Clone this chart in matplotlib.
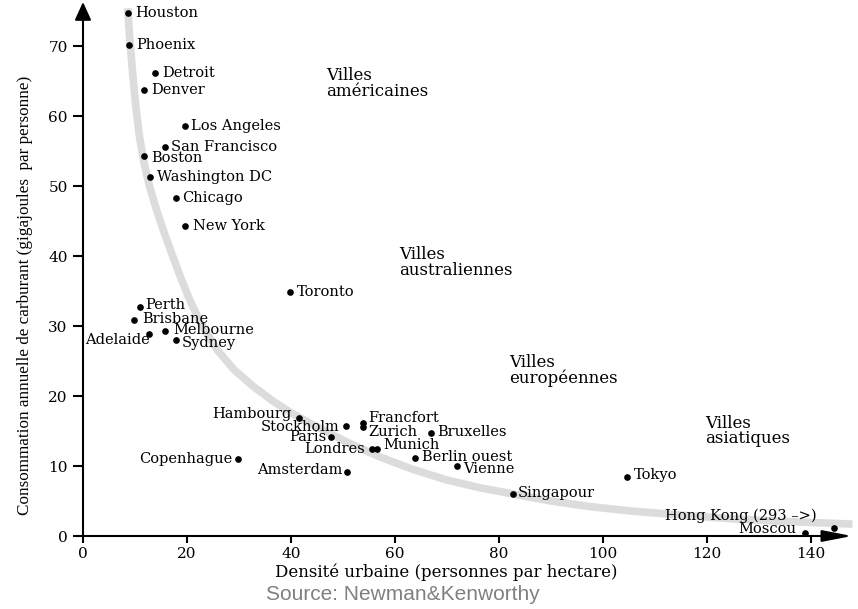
import numpy as np
import matplotlib.pyplot as plt

# cities: urban density (persons / ha) vs annual fuel use (GJ / person)
cities = ["Houston", "Phoenix", "Detroit", "Denver", "Los Angeles", "San Francisco",
          "Boston", "Washington DC", "Chicago", "New York", "Toronto", "Perth",
          "Brisbane", "Adelaide", "Melbourne", "Sydney", "Hambourg", "Stockholm",
          "Paris", "Londres", "Francfort", "Zurich", "Munich", "Bruxelles",
          "Berlin ouest", "Vienne", "Copenhague", "Amsterdam", "Singapour", "Tokyo",
          "Hong Kong (293 –>)", "Moscou"]
density = [8.7, 8.8, 13.8, 11.7, 19.6, 15.8, 11.7, 12.9, 17.9, 19.6, 39.8, 11.0,
           9.8, 12.7, 15.8, 17.9, 41.5, 50.6, 47.7, 55.6, 53.8, 53.8, 56.5, 66.9,
           63.8, 71.9, 29.8, 50.8, 82.7, 104.6, 144.4, 138.8]
fuel = [74.7, 70.1, 66.1, 63.7, 58.6, 55.6, 54.3, 51.3, 48.3, 44.3, 34.9, 32.7,
        30.9, 28.9, 29.3, 28.0, 16.9, 15.7, 14.1, 12.4, 16.1, 15.6, 12.4, 14.7,
        11.1, 10.0, 11.0, 9.1, 6.0, 8.4, 1.1, 0.4]

# grey trend curve
curve_density = [8.6, 9.0, 9.5, 10.1, 10.8, 11.6, 12.6, 13.8, 15.3, 17.1, 18.6, 20.2,
                 22.5, 25.8, 29.0, 32.7, 36.5, 40.0, 44.2, 50.8, 57.1, 63.5, 70.0,
                 76.3, 82.7, 90.0, 97.5, 105.0, 114.8, 124.0, 134.0, 148.0]
curve_fuel = [75.4, 71.0, 66.5, 61.8, 57.4, 53.8, 50.5, 47.4, 44.0, 40.3, 37.3, 34.3,
              30.6, 26.6, 23.8, 21.4, 19.3, 17.6, 15.9, 13.4, 11.3, 9.5, 8.0,
              6.9, 6.0, 5.0, 4.2, 3.6, 3.0, 2.5, 2.1, 1.7]

groups = ["Villes\naméricaines", "Villes\naustraliennes", "Villes\neuropéennes",
          "Villes\nasiatiques"]
group_density = [46.7, 60.8, 81.9, 119.6]
group_fuel = [64.7, 39.1, 23.6, 15.0]

# label placement: (dx px, dy px, alignment)
label_pos = {
    "Houston": (7, 0, "left"), "Phoenix": (7, 0, "left"), "Detroit": (7, 0, "left"),
    "Denver": (7, 0, "left"), "Los Angeles": (6, 0, "left"),
    "San Francisco": (6, 0, "left"), "Boston": (7, -2, "left"),
    "Washington DC": (7, 0, "left"), "Chicago": (6, 0, "left"),
    "New York": (8, 0, "left"), "Toronto": (7, 0, "left"), "Perth": (5, 2, "left"),
    "Brisbane": (8, 1, "left"), "Adelaide": (1, -6, "right"),
    "Melbourne": (8, 1, "left"), "Sydney": (6, -3, "left"),
    "Hambourg": (-7, 4, "right"), "Stockholm": (-7, -1, "right"),
    "Paris": (-5, 0, "right"), "Londres": (-7, 0, "right"),
    "Francfort": (6, 5, "left"), "Zurich": (6, -5, "left"), "Munich": (7, 4, "left"),
    "Bruxelles": (6, 1, "left"), "Berlin ouest": (7, 1, "left"),
    "Vienne": (6, -3, "left"), "Copenhague": (-6, 0, "right"),
    "Amsterdam": (-5, 2, "right"), "Singapour": (5, 1, "left"),
    "Tokyo": (7, 2, "left"), "Hong Kong (293 –>)": (-17, 12, "right"),
    "Moscou": (-8, 4, "right"),
}

plt.rcParams["font.family"] = "DejaVu Serif"

fig = plt.figure(figsize=(8.58, 6.09), dpi=100)
ax = fig.add_axes([83 / 858, 73 / 609, 769 / 858, 534 / 609])
ax.set_xlim(0, 147.9)
ax.set_ylim(0, 76.3)

ax.plot(curve_density, curve_fuel, color="#dcdcdc", lw=5.5, zorder=1, clip_on=False,
        solid_capstyle="butt", solid_joinstyle="round")
ax.plot(density, fuel, "o", color="black", ms=3.8, zorder=3, clip_on=False)

for name, x, y in zip(cities, density, fuel):
    dx, dy, ha = label_pos[name]
    ax.annotate(name, (x, y), xytext=(dx, dy), textcoords="offset pixels",
                ha=ha, va="center", fontsize=10.5, zorder=4)

for g, x, y in zip(groups, group_density, group_fuel):
    ax.text(x, y, g, ha="left", va="center", fontsize=12, linespacing=0.9)

# axes drawn as arrows
for spine in ax.spines.values():
    spine.set_visible(False)
ax.annotate("", xy=(1, 0), xytext=(0, 0), xycoords="axes fraction",
            arrowprops=dict(arrowstyle="-|>,head_length=1.8,head_width=0.35",
                            color="black", lw=1.5, shrinkA=0, shrinkB=0,
                            mutation_scale=10))
ax.annotate("", xy=(0, 1), xytext=(0, 0), xycoords="axes fraction",
            arrowprops=dict(arrowstyle="-|>,head_length=1.1,head_width=0.5",
                            color="black", lw=1.5, shrinkA=0, shrinkB=0,
                            mutation_scale=10))

ax.set_xticks(np.arange(0, 141, 20))
ax.set_yticks(np.arange(0, 71, 10))
ax.tick_params(axis="x", length=5, width=1.5, pad=3, labelsize=11)
ax.tick_params(axis="y", length=7, width=1.5, pad=4, labelsize=11)

ax.set_xlabel("Densité urbaine (personnes par hectare)", fontsize=12, va="center")
ax.xaxis.set_label_coords((446 - 83) / 769, (536 - 572) / 534)
ax.set_ylabel("Consommation annuelle de carburant (gigajoules  par personne)",
              fontsize=12.3, family="Liberation Serif", va="center")
ax.yaxis.set_label_coords((25 - 83) / 769, (536 - 295) / 534)

fig.text(403 / 858, 1 - 594 / 609, "Source: Newman&Kenworthy", ha="center",
         va="center", fontsize=15, color="#808080", family="Liberation Sans")

plt.savefig("out.png", dpi=100)
